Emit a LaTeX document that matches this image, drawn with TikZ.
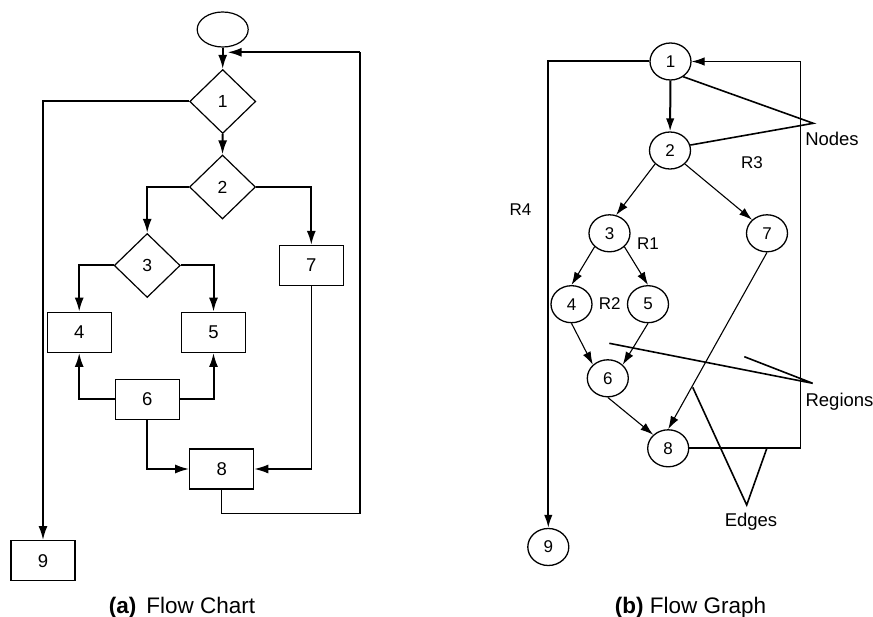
\documentclass[tikz,border=0pt]{standalone}
\usepackage{fontspec}
\setmainfont{Liberation Sans}
\usetikzlibrary{arrows.meta,shapes.geometric}
\begin{document}
\begin{tikzpicture}[x=1pt,y=-1pt,
  thinl/.style={line width=1.1pt},
  thickl/.style={line width=2pt},
  arr/.style={-{Latex[length=14pt,width=9pt]}},
  garr/.style={-{Latex[length=13pt,width=8.5pt]}},
  box/.style={draw, line width=1.2pt, minimum width=64pt, minimum height=40pt, inner sep=0pt, font=\fontsize{18.5}{20}\selectfont},
  dia/.style={draw, diamond, line width=1.2pt, minimum width=66pt, minimum height=64pt, inner sep=0pt, font=\fontsize{17.5}{20}\selectfont},
  circ/.style={draw, ellipse, line width=1.3pt, minimum width=41pt, minimum height=37pt, inner sep=0pt, font=\fontsize{17}{20}\selectfont},
  lbl/.style={font=\fontsize{18.5}{20}\selectfont, anchor=base, inner sep=0pt},
  rlbl/.style={font=\fontsize{17}{20}\selectfont, anchor=base, inner sep=0pt},
  captxt/.style={font=\fontsize{22.5}{24}\selectfont, anchor=base, inner sep=0pt},
  ptr/.style={line width=1.6pt}
]
\useasboundingbox (0,0) rectangle (873,617);

% ---------- (a) Flow Chart ----------
\node[draw, ellipse, line width=1.2pt, minimum width=51pt, minimum height=35pt] (st) at (222.7,29.5) {};
\node[dia] (d1) at (222.7,101.5) {1};
\node[dia] (d2) at (222.5,187) {2};
\node[dia] (d3) at (147.2,265.5) {3};
\node[box] (b4) at (79.2,332.3) {4};
\node[box] (b5) at (213.5,332.3) {5};
\node[box] (b6) at (147.3,399.3) {6};
\node[box] (b7) at (311.3,265.5) {7};
\node[box] (b8) at (221.8,469) {8};
\node[box] (b9) at (43,560.7) {9};
\coordinate (ret) at (227.5,52.3);
\coordinate (rt) at (360,52.3);
\coordinate (rb) at (360,513.3);

\draw[thickl,arr] (st.south) -- (d1.north);
\draw[thickl,arr] (d1.west) -| (b9.north);
\draw[thickl,arr] (d1.south) -- (d2.north);
\draw[thickl,arr] (d2.west) -| (d3.north);
\draw[thickl,arr] (d2.east) -| (b7.north);
\draw[thickl,arr] (d3.west) -| (b4.north);
\draw[thickl,arr] (d3.east) -| (b5.north);
\draw[thickl,arr] (b6.west) -| (b4.south);
\draw[thickl,arr] (b6.east) -| (b5.south);
\draw[thickl,arr] (b6.south) |- (b8.west);
\draw[thinl,arr] (b7.south) |- (b8.east);
\draw[thinl] (b8.south) |- (rb) -- (rt);
\draw[thickl,arr] (rt) -- (ret);

\node[captxt] (capa) at (182,613.3) {\textbf{(a)}\hspace{0.45em}Flow Chart};

% ---------- (b) Flow Graph ----------
\node[circ] (n1) at (670.5,61.5) {1};
\node[circ] (n2) at (670,150.5) {2};
\node[circ] (n3) at (609.5,233.3) {3};
\node[circ] (n7) at (767,233.3) {7};
\node[circ] (n4) at (571.5,304.2) {4};
\node[circ] (n5) at (648,304.2) {5};
\node[circ] (n6) at (607.8,378.3) {6};
\node[circ] (n8) at (668.2,448.3) {8};
\node[circ] (n9) at (548.3,547) {9};
\coordinate (rr) at (800.7,448.3);

\draw[thickl,garr] (n1.west) -| (n9.north);
\draw[thickl,garr] (n1) -- (n2);
\draw[thinl,garr] (n2.south west) -- (n3.70);
\draw[thinl,garr] (n2.south east) -- (n7.north west);
\draw[thinl,garr] (n3.south west) -- (n4.north);
\draw[thinl,garr] (n3.south east) -- (n5.north);
\draw[thinl,garr] (n4.south) -- (n6.north west);
\draw[thinl,garr] (n5.south) -- (n6.north east);
\draw[thinl,garr] (n6.south) -- (n8.north west);
\draw[thinl,garr] (n7.south) -- (n8.north);
\draw[thickl] (n8.east) -- (rr);
\draw[thinl,garr] (rr) |- (n1.east);

\node[rlbl] (r1) at (648,250) {R1};
\node[rlbl] (r2) at (609.7,310) {R2};
\node[rlbl] (r3) at (752,168.3) {R3};
\node[rlbl] (r4) at (520.5,216) {R4};

\coordinate (pn) at (813.3,123.3);
\draw[ptr] (n1.-50) -- (pn) -- (n2.15);
\node[lbl] (lnodes) at (832,145.5) {Nodes};

\coordinate (pr) at (812.7,383.3);
\coordinate (ra) at (609.3,343.3);
\coordinate (rbb) at (744.3,356.7);
\draw[ptr] (ra) -- (pr) -- (rbb);
\node[lbl] (lreg) at (839.5,406.5) {Regions};

\coordinate (pe) at (746.7,505);
\coordinate (ea) at (692.7,387.3);
\coordinate (eb) at (766.7,448.7);
\draw[ptr] (ea) -- (pe) -- (eb);
\node[lbl] (ledg) at (751,526) {Edges};

\node[captxt] (capb) at (690.5,613.3) {\textbf{(b)} Flow Graph};
\end{tikzpicture}
\end{document}
